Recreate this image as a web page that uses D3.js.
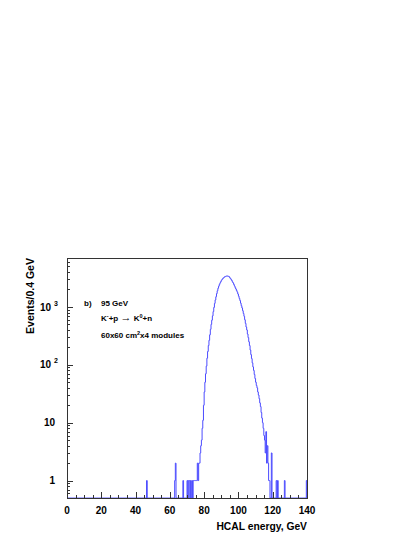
<!DOCTYPE html>
<html>
<head>
<meta charset="utf-8">
<script src="https://cdn.jsdelivr.net/npm/d3@7/dist/d3.min.js"></script>
<style>
  body { margin: 0; background: #fff; }
  text { font-family: "Liberation Sans", Arial, Helvetica, sans-serif; fill: #000; }
</style>
</head>
<body>
<svg id="chart" width="415" height="537"></svg>
<script>
// histogram: 0.4 GeV bins from 0 to 140 GeV
const binWidth = 0.4;
const xMax = 140;
const xTicksMajor = [0, 20, 40, 60, 80, 100, 120, 140];
const yDecades = [1, 10, 100, 1000];

// main peak, bins starting at 76.0 GeV
const coreStart = 76.0;
const coreCounts = [
  2, 1, 2, 2, 3, 4, 5, 8, 11, 20,
  34, 50, 70, 95, 130, 170, 215, 265, 330, 410,
  500, 590, 700, 830, 980, 1150, 1320, 1500, 1700, 1900,
  2100, 2280, 2450, 2610, 2740, 2890, 3000, 3110, 3180, 3270,
  3330, 3370, 3410, 3430, 3400, 3380, 3330, 3210, 3100, 2980,
  2860, 2710, 2590, 2440, 2300, 2150, 2040, 1920, 1800, 1670,
  1530, 1400, 1290, 1160, 1050, 960, 860, 770, 690, 600,
  520, 450, 400, 340, 295, 250, 215, 180, 150, 128,
  108, 92, 80, 68, 58, 50, 44, 40, 34, 30,
  26, 22, 19, 15, 12, 10, 8, 6, 5, 3,
  7, 2, 4, 2, 1, 1
];
// isolated low / high energy bins [bin start, entries]
const lowTail = [[46.4, 1], [62.8, 1], [63.2, 2], [67.6, 1], [70.0, 1], [70.8, 1], [71.2, 1],
  [72.0, 1], [72.8, 1], [73.6, 1], [74.0, 1], [74.4, 1], [74.8, 1], [75.2, 1], [75.6, 1]];
const highTail = [[119.2, 3], [122.0, 1], [122.8, 1], [126.8, 1], [139.6, 1]];

let svg = d3.select("#chart");

let pLeft = 67, pRight = 307, pTop = 258, pBottom = 498;

let x = d3.scaleLinear().domain([0, xMax]).range([pLeft, pRight]);
let y = d3.scaleLog().domain([0.5, 7000]).range([pBottom, pTop]);

// put all bins in one array
let nBins = Math.round(xMax / binWidth);
let counts = new Array(nBins).fill(0);
coreCounts.forEach(function(c, i) {
  counts[Math.round(coreStart / binWidth) + i] = c;
});
lowTail.concat(highTail).forEach(function(d) {
  counts[Math.round(d[0] / binWidth)] = d[1];
});

// step outline, empty bins sit on the bottom edge
let pts = [[x(0), pBottom]];
counts.forEach(function(c, i) {
  let yy = c > 0 ? y(c) : pBottom;
  pts.push([x(i * binWidth), yy]);
  pts.push([x((i + 1) * binWidth), yy]);
});
pts.push([x(xMax), pBottom]);

svg.append("path")
  .attr("d", d3.line()(pts))
  .attr("fill", "none")
  .attr("stroke", "#4c4cff")
  .attr("stroke-width", 1);

// frame
svg.append("rect")
  .attr("x", pLeft + 0.5).attr("y", pTop + 0.5)
  .attr("width", pRight - pLeft).attr("height", pBottom - pTop)
  .attr("fill", "none").attr("stroke", "#333").attr("stroke-width", 1)
  .attr("shape-rendering", "crispEdges");

// x ticks (inward)
let xMinor = d3.range(0, xMax + 1, 5);
svg.append("g").selectAll("line")
  .data(xMinor)
  .join("line")
  .attr("x1", d => Math.round(x(d)) + 0.5).attr("x2", d => Math.round(x(d)) + 0.5)
  .attr("y1", pBottom).attr("y2", d => pBottom - (d % 20 == 0 ? 6 : 3))
  .attr("stroke", "#333").attr("shape-rendering", "crispEdges");

svg.append("g").selectAll("text")
  .data(xTicksMajor)
  .join("text")
  .attr("x", d => x(d)).attr("y", 514)
  .attr("text-anchor", "middle")
  .style("font-size", "10px").style("font-weight", "bold")
  .text(d => d);

// y ticks (inward)
let yMinor = [];
[0.1, 1, 10, 100, 1000].forEach(function(dec) {
  for (let k = 2; k <= 9; k++) {
    let v = k * dec;
    if (v >= 0.5 && v <= 7000) yMinor.push(v);
  }
});
svg.append("g").selectAll("line")
  .data(yMinor.concat(yDecades))
  .join("line")
  .attr("x1", pLeft).attr("x2", d => pLeft + (yDecades.includes(d) ? 6 : 3))
  .attr("y1", d => Math.round(y(d)) + 0.5).attr("y2", d => Math.round(y(d)) + 0.5)
  .attr("stroke", "#333").attr("shape-rendering", "crispEdges");

let yl = svg.append("g").selectAll("text")
  .data(yDecades)
  .join("text")
  .attr("x", d => d >= 100 ? 58 : 55).attr("y", d => y(d) + 3.6)
  .attr("text-anchor", "end")
  .style("font-size", "10px").style("font-weight", "bold");
yl.append("tspan").text(d => d >= 100 ? "10" : d);
yl.filter(d => d >= 100).append("tspan")
  .attr("dx", 3).attr("dy", -5)
  .style("font-size", "7px")
  .text(d => Math.round(Math.log10(d)));

// axis titles
svg.append("text")
  .attr("transform", "translate(34,296) rotate(-90)")
  .attr("text-anchor", "middle")
  .style("font-size", "10.5px").style("font-weight", "bold")
  .text("Events/0.4 GeV");

svg.append("text")
  .attr("x", pRight).attr("y", 530)
  .attr("text-anchor", "end")
  .style("font-size", "10.3px").style("font-weight", "bold")
  .text("HCAL energy, GeV");

// annotation
let note = svg.append("g").style("font-size", "8px").style("font-weight", "bold");
note.append("text").attr("x", 84).attr("y", 305.5).text("b)");
note.append("text").attr("x", 101).attr("y", 305.5).text("95 GeV");

let l2 = note.append("text").attr("x", 101).attr("y", 321);
l2.append("tspan").text("K");
l2.append("tspan").attr("dy", -3).style("font-size", "5.5px").text("-");
l2.append("tspan").attr("dy", 3).text("+p ");
l2.append("tspan").style("font-size", "11px").style("font-weight", "normal").text("\u2192");
l2.append("tspan").text(" K");
l2.append("tspan").attr("dy", -3).style("font-size", "5.5px").text("0");
l2.append("tspan").attr("dy", 3).text("+n");

let l3 = note.append("text").attr("x", 101).attr("y", 338);
l3.append("tspan").text("60x60 cm");
l3.append("tspan").attr("dy", -3).style("font-size", "5.5px").text("2");
l3.append("tspan").attr("dy", 3).text("x4 modules");
</script>
</body>
</html>
